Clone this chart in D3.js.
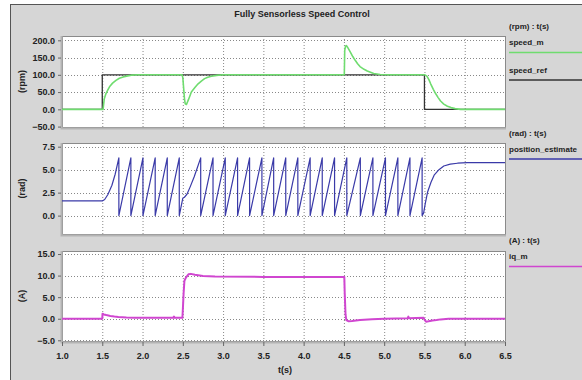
<!DOCTYPE html>
<html>
<head>
<meta charset="utf-8">
<script src="https://cdn.jsdelivr.net/npm/d3@7"></script>
<style>
  body { margin: 0; background: #fff; }
  svg text { font-family: "Liberation Sans", Arial, sans-serif; font-weight: bold; fill: #222; }
</style>
</head>
<body>
<svg id="chart" width="582" height="380"></svg>
<script>
// data
const title = 'Fully Sensorless Speed Control';
const xTicks = [1.0, 1.5, 2.0, 2.5, 3.0, 3.5, 4.0, 4.5, 5.0, 5.5, 6.0, 6.5];

const speedRef = [[1.0, 0], [1.5, 0], [1.5, 100], [5.5, 100], [5.5, 0], [6.5, 0]];
const speedM = [
    [1.0, 0], [1.5, 0], [1.51, 0], [1.525, 31], [1.545, 45], [1.566, 55], [1.595, 67], [1.628, 76],
    [1.67, 84], [1.712, 90], [1.76, 94], [1.815, 97], [1.86, 99], [1.95, 100], [2.49, 100],
    [2.50, 92], [2.51, 62], [2.52, 32], [2.53, 16], [2.545, 14], [2.57, 28], [2.606, 50], [2.65, 63],
    [2.69, 74], [2.73, 82], [2.77, 89], [2.81, 93], [2.855, 96], [2.92, 98.5], [3.0, 100],
    [4.505, 100], [4.51, 170], [4.52, 183], [4.53, 185], [4.545, 180], [4.58, 166], [4.61, 153],
    [4.64, 142], [4.67, 132], [4.70, 124], [4.75, 116], [4.79, 111], [4.87, 104], [4.95, 101],
    [5.05, 100], [5.505, 100], [5.53, 96], [5.555, 86], [5.577, 74], [5.61, 58], [5.64, 45],
    [5.67, 34], [5.70, 24], [5.74, 15], [5.785, 9], [5.83, 5], [5.88, 2], [5.95, 0], [6.5, 0]
];

const posTop = 6.28;
const posHead = [[1.0, 1.6], [1.5, 1.6], [1.53, 1.75], [1.57, 2.3], [1.62, 3.3], [1.66, 4.5], [1.706, 6.28]];
const posPeaksA = [1.706, 1.855, 2.005, 2.157, 2.307, 2.456];
const posMid = [[2.50, 1.9], [2.52, 2.0], [2.55, 2.3], [2.59, 3.1], [2.64, 4.2], [2.68, 5.2], [2.722, 6.28]];
const posPeaksB = [2.722, 2.875, 3.027, 3.18, 3.329, 3.482, 3.628, 3.778, 3.928, 4.081, 4.231,
    4.384, 4.536, 4.704, 4.86, 5.016, 5.17, 5.32, 5.471];
const posTail = [[5.49, 0.3], [5.51, 1.3], [5.54, 2.6], [5.58, 3.6], [5.62, 4.4], [5.68, 5.0],
    [5.74, 5.4], [5.82, 5.6], [5.91, 5.7], [6.03, 5.76], [6.5, 5.76]];

const iqM = [
    [1.0, 0], [1.5, 0], [1.503, 1.15], [1.52, 1.0], [1.55, 0.85], [1.6, 0.65], [1.65, 0.5], [1.7, 0.4],
    [1.8, 0.3], [1.9, 0.25], [2.0, 0.2], [2.38, 0.2], [2.39, 0.5], [2.40, 0.2], [2.495, 0.2],
    [2.50, 2], [2.51, 6], [2.52, 8.8], [2.54, 9.6], [2.57, 10.3], [2.6, 10.4], [2.65, 10.2],
    [2.75, 9.9], [2.9, 9.8], [3.5, 9.7], [4.2, 9.7], [4.505, 9.7], [4.51, 6], [4.52, 1],
    [4.53, -0.3], [4.56, -0.6], [4.6, -0.55], [4.7, -0.3], [4.85, -0.1], [5.0, 0.0], [5.29, 0.1],
    [5.30, 0.5], [5.31, 0.1], [5.49, 0.2], [5.50, -0.2], [5.52, -0.7], [5.55, -0.6], [5.6, -0.4],
    [5.65, -0.3], [5.7, -0.15], [5.8, 0], [6.5, 0]
];

const panels = [
    { top: 36, bottom: 127, domain: [-51.2, 212.5], ticks: [-50, 0, 50, 100, 150, 200], unit: '(rpm)' },
    { top: 143, bottom: 234, domain: [-2.0, 7.9], ticks: [0, 2.5, 5.0, 7.5], unit: '(rad)' },
    { top: 251, bottom: 341, domain: [-5.16, 15.7], ticks: [-5, 0, 5, 10, 15], unit: '(A)' }
];

const legends = [
    { head: '(rpm) : t(s)', headY: 29, items: [
        { name: 'speed_m', y: 45, lineY: 52.5, color: '#6fdc6f' },
        { name: 'speed_ref', y: 73, lineY: 80, color: '#333' }
    ] },
    { head: '(rad) : t(s)', headY: 136, items: [
        { name: 'position_estimate', y: 152, lineY: 159, color: '#3a3aa8' }
    ] },
    { head: '(A) : t(s)', headY: 243, items: [
        { name: 'iq_m', y: 259, lineY: 266.5, color: '#d046d0' }
    ] }
];

// build the sawtooth from the wrap times
function teeth(peaks) {
    const out = [];
    peaks.forEach((p, i) => {
        if (i > 0) out.push([p, posTop]);
        out.push([p, 0]);
    });
    return out;
}
const position = [...posHead, ...teeth(posPeaksA), ...posMid, ...teeth(posPeaksB), ...posTail];

const left = 62, right = 505;
const x = d3.scaleLinear().domain([1.0, 6.5]).range([left, right]);
const fmt = d3.format('.1f');

const svg = d3.select('#chart');

// panel background
svg.append('rect')
    .attr('x', 10.5).attr('y', 4.5)
    .attr('width', 600).attr('height', 400)
    .attr('fill', '#d6d6d6')
    .attr('stroke', '#555');

svg.append('text')
    .attr('x', 302).attr('y', 17)
    .attr('text-anchor', 'middle')
    .attr('font-size', 9)
    .text(title);

panels.forEach(p => {
    p.y = d3.scaleLinear().domain(p.domain).range([p.bottom, p.top]);
    const g = svg.append('g');

    g.append('rect')
        .attr('x', left).attr('y', p.top)
        .attr('width', right - left).attr('height', p.bottom - p.top)
        .attr('fill', '#fff');

    // grid
    g.selectAll('.gx').data(xTicks.slice(1, -1)).enter().append('line')
        .attr('x1', d => x(d) + 0.5).attr('x2', d => x(d) + 0.5)
        .attr('y1', p.top).attr('y2', p.bottom)
        .attr('stroke', '#888').attr('stroke-dasharray', '1,2');
    g.selectAll('.gy').data(p.ticks).enter().append('line')
        .attr('x1', left).attr('x2', right)
        .attr('y1', d => Math.round(p.y(d)) + 0.5).attr('y2', d => Math.round(p.y(d)) + 0.5)
        .attr('stroke', '#888').attr('stroke-dasharray', '1,2');

    // frame
    g.append('rect')
        .attr('x', left + 0.5).attr('y', p.top + 0.5)
        .attr('width', right - left).attr('height', p.bottom - p.top)
        .attr('fill', 'none').attr('stroke', '#8a8a8a');
    g.append('path')
        .attr('d', `M${left - 0.5},${p.top}V${p.bottom + 1.5}H${right + 1}`)
        .attr('fill', 'none').attr('stroke', '#b4b4b4').attr('stroke-width', 2);

    // y axis
    const yAxis = d3.axisLeft(p.y).tickValues(p.ticks).tickFormat(fmt).tickSizeInner(3).tickSizeOuter(0);
    const ga = g.append('g').attr('transform', `translate(${left - 1},0)`).call(yAxis);
    ga.select('.domain').remove();
    ga.selectAll('line').attr('stroke', '#666');
    ga.selectAll('text').attr('font-size', 9).attr('fill', '#222').attr('font-family', null);

    g.append('text')
        .attr('transform', `translate(25,${(p.top + p.bottom) / 2}) rotate(-90)`)
        .attr('text-anchor', 'middle')
        .attr('font-size', 9)
        .text(p.unit);
});

// x axis under the last panel
const last = panels[2];
const xAxis = d3.axisBottom(x).tickValues(xTicks).tickFormat(fmt).tickSizeInner(4).tickSizeOuter(0);
const gx = svg.append('g').attr('transform', `translate(0,${last.bottom + 1})`).call(xAxis);
gx.select('.domain').remove();
gx.selectAll('line').attr('stroke', '#666');
gx.selectAll('text').attr('font-size', 9).attr('fill', '#222').attr('font-family', null).attr('dy', '1.1em');
svg.append('text').attr('x', 285).attr('y', 373).attr('text-anchor', 'middle').attr('font-size', 9).text('t(s)');

// series
function drawLine(panel, data, color, width) {
    const line = d3.line().x(d => x(d[0])).y(d => panel.y(d[1]));
    svg.append('path')
        .datum(data)
        .attr('d', line)
        .attr('fill', 'none')
        .attr('stroke', color)
        .attr('stroke-width', width)
        .attr('stroke-linejoin', 'round');
}

drawLine(panels[0], speedRef, '#333', 1.3);
drawLine(panels[0], speedM, '#6fdc6f', 1.6);
drawLine(panels[1], position, '#3a3aa8', 1.2);
drawLine(panels[2], iqM, '#d046d0', 2);

// legends
legends.forEach(l => {
    svg.append('text').attr('x', 509).attr('y', l.headY).attr('font-size', 8).text(l.head);
    l.items.forEach(it => {
        svg.append('text').attr('x', 509).attr('y', it.y).attr('font-size', 8).text(it.name);
        svg.append('line')
            .attr('x1', 509).attr('x2', 582)
            .attr('y1', it.lineY).attr('y2', it.lineY)
            .attr('stroke', it.color).attr('stroke-width', 1.6);
    });
});
</script>
</body>
</html>
